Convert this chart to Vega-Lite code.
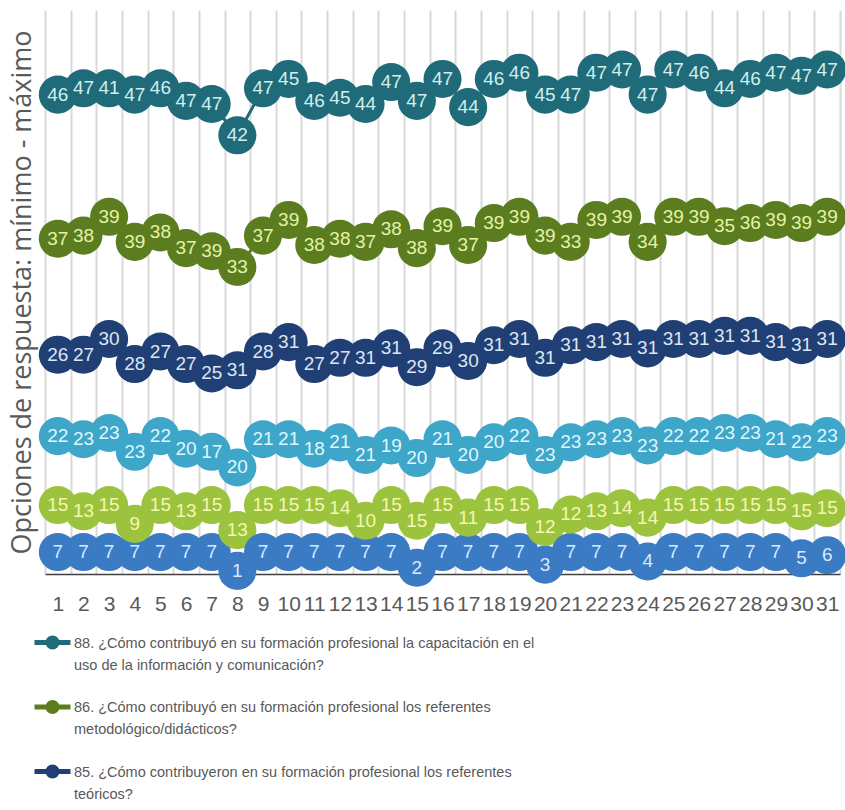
{
  "$schema": "https://vega.github.io/schema/vega-lite/v6.json",
  "width": 795,
  "height": 564,
  "autosize": {"type": "none"},
  "padding": {"left": 45, "top": 10, "right": 5, "bottom": 236},
  "background": "white",
  "config": {"view": {"stroke": null}},
  "data": {"values": [
    {"x": 1, "a": 7, "b": 15, "c": 22, "d": 26, "e": 37, "f": 46},
    {"x": 2, "a": 7, "b": 13, "c": 23, "d": 27, "e": 38, "f": 47},
    {"x": 3, "a": 7, "b": 15, "c": 23, "d": 30, "e": 39, "f": 41},
    {"x": 4, "a": 7, "b": 9, "c": 23, "d": 28, "e": 39, "f": 47},
    {"x": 5, "a": 7, "b": 15, "c": 22, "d": 27, "e": 38, "f": 46},
    {"x": 6, "a": 7, "b": 13, "c": 20, "d": 27, "e": 37, "f": 47},
    {"x": 7, "a": 7, "b": 15, "c": 17, "d": 25, "e": 39, "f": 47},
    {"x": 8, "a": 1, "b": 13, "c": 20, "d": 31, "e": 33, "f": 42},
    {"x": 9, "a": 7, "b": 15, "c": 21, "d": 28, "e": 37, "f": 47},
    {"x": 10, "a": 7, "b": 15, "c": 21, "d": 31, "e": 39, "f": 45},
    {"x": 11, "a": 7, "b": 15, "c": 18, "d": 27, "e": 38, "f": 46},
    {"x": 12, "a": 7, "b": 14, "c": 21, "d": 27, "e": 38, "f": 45},
    {"x": 13, "a": 7, "b": 10, "c": 21, "d": 31, "e": 37, "f": 44},
    {"x": 14, "a": 7, "b": 15, "c": 19, "d": 31, "e": 38, "f": 47},
    {"x": 15, "a": 2, "b": 15, "c": 20, "d": 29, "e": 38, "f": 47},
    {"x": 16, "a": 7, "b": 15, "c": 21, "d": 29, "e": 39, "f": 47},
    {"x": 17, "a": 7, "b": 11, "c": 20, "d": 30, "e": 37, "f": 44},
    {"x": 18, "a": 7, "b": 15, "c": 20, "d": 31, "e": 39, "f": 46},
    {"x": 19, "a": 7, "b": 15, "c": 22, "d": 31, "e": 39, "f": 46},
    {"x": 20, "a": 3, "b": 12, "c": 23, "d": 31, "e": 39, "f": 45},
    {"x": 21, "a": 7, "b": 12, "c": 23, "d": 31, "e": 33, "f": 47},
    {"x": 22, "a": 7, "b": 13, "c": 23, "d": 31, "e": 39, "f": 47},
    {"x": 23, "a": 7, "b": 14, "c": 23, "d": 31, "e": 39, "f": 47},
    {"x": 24, "a": 4, "b": 14, "c": 23, "d": 31, "e": 34, "f": 47},
    {"x": 25, "a": 7, "b": 15, "c": 22, "d": 31, "e": 39, "f": 47},
    {"x": 26, "a": 7, "b": 15, "c": 22, "d": 31, "e": 39, "f": 46},
    {"x": 27, "a": 7, "b": 15, "c": 23, "d": 31, "e": 35, "f": 44},
    {"x": 28, "a": 7, "b": 15, "c": 23, "d": 31, "e": 36, "f": 46},
    {"x": 29, "a": 7, "b": 15, "c": 21, "d": 31, "e": 39, "f": 47},
    {"x": 30, "a": 5, "b": 15, "c": 22, "d": 31, "e": 39, "f": 47},
    {"x": 31, "a": 6, "b": 15, "c": 23, "d": 31, "e": 39, "f": 47}
  ]},
  "transform": [
    {"fold": ["a", "b", "c", "d", "e", "f"], "as": ["key", "v"]},
    {"stack": "v", "groupby": ["x"], "sort": [{"field": "key", "order": "ascending"}], "as": ["y0", "y1"]}
  ],
  "encoding": {
    "x": {
      "field": "x", "type": "ordinal",
      "scale": {"type": "band", "paddingInner": 0, "paddingOuter": 0},
      "axis": {
        "title": null, "labelAngle": 0, "labelFont": "Liberation Sans", "labelFontSize": 21,
        "labelColor": "#595959", "labelPadding": 19, "labelOverlap": false, "ticks": false,
        "tickBand": "extent", "grid": true, "gridColor": "#d9d9d9", "gridWidth": 2,
        "domain": true, "domainColor": "#404040", "domainWidth": 1.5
      }
    },
    "y": {
      "field": "y1", "type": "quantitative",
      "scale": {"domain": [0, 180], "nice": false},
      "axis": {
        "title": "Opciones de respuesta: mínimo - máximo", "labels": false, "ticks": false,
        "grid": false, "domain": false, "titleFont": "Open Sans", "titleFontSize": 27,
        "titleFontWeight": "normal", "titleColor": "#595959", "titlePadding": 9
      }
    }
  },
  "layer": [
    {
      "mark": {"type": "line", "strokeWidth": 3},
      "encoding": {
        "stroke": {
          "field": "key", "type": "nominal",
          "scale": {"domain": ["a", "b", "c", "d", "e", "f"], "range": ["#3b7bc4", "#9cc33e", "#3ea6c9", "#203f74", "#5b7d1f", "#1f6b79"]},
          "legend": {
            "orient": "none", "legendX": -13, "legendY": 612, "direction": "vertical", "title": null,
            "values": ["f", "e", "d"],
            "labelExpr": "datum.label == 'f' ? ['88. ¿Cómo contribuyó en su formación profesional la capacitación en el', 'uso de la información y comunicación?'] : datum.label == 'e' ? ['86. ¿Cómo contribuyó en su formación profesional los referentes', 'metodológico/didácticos?'] : ['85. ¿Cómo contribuyeron en su formación profesional los referentes', 'teóricos?']",
            "labelFont": "Liberation Sans", "labelFontSize": 14.5, "labelColor": "#595959",
            "labelLimit": 800, "labelBaseline": "alphabetic", "labelOffset": 1,
            "symbolType": "M-1,0L1,0M-0.25,0A0.25,0.25,0,1,1,0.25,0A0.25,0.25,0,1,1,-0.25,0Z",
            "symbolSize": 1296, "symbolStrokeWidth": 5, "rowPadding": 14.5,
            "encode": {
              "symbols": {"update": {"fill": {"scale": "stroke", "field": "value"}, "stroke": {"scale": "stroke", "field": "value"}, "opacity": {"value": 1}}},
              "labels": {"update": {"dy": {"value": 5}, "lineHeight": {"value": 22}}}
            }
          }
        }
      }
    },
    {
      "mark": {"type": "point", "filled": true, "shape": "circle", "size": 1450, "opacity": 1},
      "encoding": {
        "fill": {
          "field": "key", "type": "nominal",
          "scale": {"domain": ["a", "b", "c", "d", "e", "f"], "range": ["#3b7bc4", "#9cc33e", "#3ea6c9", "#203f74", "#5b7d1f", "#1f6b79"]},
          "legend": null
        }
      }
    },
    {
      "mark": {"type": "text", "font": "Liberation Sans", "fontSize": 19, "align": "center", "baseline": "middle"},
      "encoding": {
        "text": {"field": "v", "type": "quantitative"},
        "color": {
          "field": "key", "type": "nominal",
          "scale": {"domain": ["a", "b", "c", "d", "e", "f"], "range": ["#d6e9ff", "#f4f7b0", "#dff6ff", "#dde6f5", "#e4f3a6", "#d2eeee"]},
          "legend": null
        }
      }
    }
  ]
}
